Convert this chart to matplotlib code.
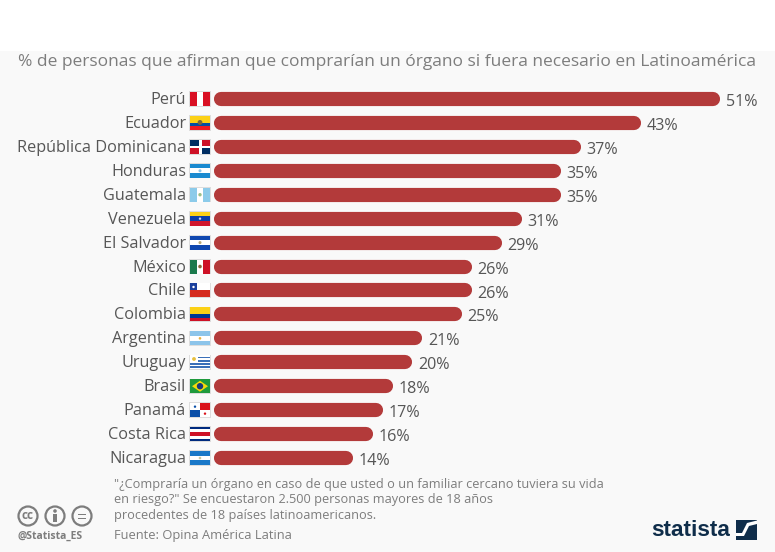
import matplotlib
matplotlib.use('Agg')
import matplotlib.pyplot as plt
from matplotlib.patches import Rectangle, Circle, Polygon

plt.rcParams['font.family'] = ['Open Sans', 'DejaVu Sans']

countries = ['Perú', 'Ecuador', 'República Dominicana', 'Honduras', 'Guatemala',
             'Venezuela', 'El Salvador', 'México', 'Chile', 'Colombia',
             'Argentina', 'Uruguay', 'Brasil', 'Panamá', 'Costa Rica', 'Nicaragua']
values = [51, 43, 37, 35, 35, 31, 29, 26, 26, 25, 21, 20, 18, 17, 16, 14]

title = '% de personas que afirman que comprarían un órgano si fuera necesario en Latinoamérica'
note = ('"¿Compraría un órgano en caso de que usted o un familiar cercano tuviera su vida\n'
        'en riesgo?" Se encuestaron 2.500 personas mayores de 18 años\n'
        'procedentes de 18 países latinoamericanos.')
source = 'Fuente: Opina América Latina'

W, H = 775, 552
BAR = '#b33a3a'
TXT = '#565656'
GREY = '#7d7d7d'

fig = plt.figure(figsize=(W / 100, H / 100), dpi=100, facecolor='#f9f9f9')

# overlay in pixel coordinates for background, flags and logos
bg = fig.add_axes([0, 0, 1, 1])
bg.set_xlim(0, W)
bg.set_ylim(H, 0)
bg.axis('off')
bg.add_patch(Rectangle((0, 0), W, 51, color='white', lw=0))

# bar axes: 0 sits at x=214, 51 at x=720
ax = fig.add_axes([214 / W, 1 - 470 / H, (720 - 214) / W, (470 - 87) / H])
ax.patch.set_alpha(0)
ax.set_xlim(0, 51)
ax.set_ylim(15.5, -0.5)
ax.axis('off')

r = 0.7  # cap radius in data units
ax.hlines(range(len(values)), r, [v - r for v in values], color=BAR,
          lw=10.2, capstyle='round')
for i, (c, v) in enumerate(zip(countries, values)):
    ax.annotate(f'{v}%', (v, i), xytext=(4, -2.2), textcoords='offset points',
                va='center', ha='left', fontsize=11.6, color=TXT)


def stripes(x, y, cols, weights=None):
    weights = weights or [1] * len(cols)
    tot = sum(weights)
    top = y
    for c, w in zip(cols, weights):
        h = 14 * w / tot
        bg.add_patch(Rectangle((x, top), 20, h, color=c, lw=0))
        top += h


def vstripes(x, y, cols):
    for k, c in enumerate(cols):
        bg.add_patch(Rectangle((x + k * 20 / 3, y), 20 / 3, 14, color=c, lw=0))


def dot(x, y, c, s=1.6):
    bg.add_patch(Circle((x, y), s, color=c, lw=0))


def flag(name, x, y):
    bg.add_patch(Rectangle((x - 0.7, y - 0.7), 21.4, 15.4, color='#dddddd', lw=0))
    if name == 'Perú':
        vstripes(x, y, ['#d91023', 'white', '#d91023'])
    elif name == 'Ecuador':
        stripes(x, y, ['#fcd116', '#034ea2', '#ed1c24'], [2, 1, 1])
        dot(x + 10, y + 6.5, '#7a6a3a', 2.4)
    elif name == 'República Dominicana':
        bg.add_patch(Rectangle((x, y), 20, 14, color='white', lw=0))
        for dx, dy, c in [(0, 0, '#002d62'), (11.5, 0, '#ce1126'), (0, 8, '#ce1126'), (11.5, 8, '#002d62')]:
            bg.add_patch(Rectangle((x + dx, y + dy), 8.5, 6, color=c, lw=0))
    elif name == 'Honduras':
        stripes(x, y, ['#1a8ad0', 'white', '#1a8ad0'])
        dot(x + 10, y + 7, '#8cc4e8', 1.5)
    elif name == 'Guatemala':
        vstripes(x, y, ['#8ccbea', 'white', '#8ccbea'])
        dot(x + 10, y + 7, '#9cbf8a', 1.7)
    elif name == 'Venezuela':
        stripes(x, y, ['#fcd116', '#0b3fa8', '#cf142b'])
        dot(x + 10, y + 7, '#cfd8f0', 1.2)
    elif name == 'El Salvador':
        stripes(x, y, ['#0f47af', 'white', '#0f47af'])
        dot(x + 10, y + 7, '#b8a878', 1.5)
    elif name == 'México':
        vstripes(x, y, ['#1a7a4c', 'white', '#ce1126'])
        dot(x + 10, y + 7, '#8a6a3a', 1.8)
    elif name == 'Chile':
        stripes(x, y, ['white', '#d52b1e'])
        bg.add_patch(Rectangle((x, y), 7, 7, color='#1a3f9c', lw=0))
        dot(x + 3.5, y + 3.5, 'white', 1.2)
    elif name == 'Colombia':
        stripes(x, y, ['#fcd116', '#003893', '#ce1126'], [2, 1, 1])
    elif name == 'Argentina':
        stripes(x, y, ['#8cc4ea', 'white', '#8cc4ea'])
        dot(x + 10, y + 7, '#e8b040', 1.3)
    elif name == 'Uruguay':
        stripes(x, y, ['white', '#3a6fb8'] * 4 + ['white'])
        bg.add_patch(Rectangle((x, y), 8, 7.5, color='white', lw=0))
        dot(x + 4, y + 3.7, '#e8c040', 1.9)
    elif name == 'Brasil':
        bg.add_patch(Rectangle((x, y), 20, 14, color='#1f9a3c', lw=0))
        bg.add_patch(Polygon([(x + 2, y + 7), (x + 10, y + 1.5), (x + 18, y + 7), (x + 10, y + 12.5)],
                             color='#f5d90a', lw=0))
        dot(x + 10, y + 7, '#1a3a7a', 3.2)
    elif name == 'Panamá':
        bg.add_patch(Rectangle((x, y), 20, 14, color='white', lw=0))
        bg.add_patch(Rectangle((x + 10, y), 10, 7, color='#da121a', lw=0))
        bg.add_patch(Rectangle((x, y + 7), 10, 7, color='#0a4fa8', lw=0))
        dot(x + 5, y + 3.5, '#0a4fa8', 1.2)
        dot(x + 15, y + 10.5, '#da121a', 1.2)
    elif name == 'Costa Rica':
        stripes(x, y, ['#002b7f', 'white', '#ce1126', 'white', '#002b7f'], [1, 1, 2, 1, 1])
    elif name == 'Nicaragua':
        stripes(x, y, ['#1a78c8', 'white', '#1a78c8'])
        dot(x + 10, y + 7, '#c8c8a0', 1.3)


fig.canvas.draw()
for i, c in enumerate(countries):
    # row centre in pixels taken from the bar axes
    yc = H - ax.transData.transform((0, i))[1]
    flag(c, 190, yc - 7)
    bg.text(186, yc + 1, c, ha='right', va='center', fontsize=11.7, color=TXT)

bg.text(18, 62, title, ha='left', va='center', fontsize=12.55, color=GREY)
bg.text(114, 500, note, ha='left', va='center', fontsize=9.23, color=GREY, linespacing=1.25)
bg.text(114, 536, source, ha='left', va='center', fontsize=9.3, color=GREY)

# cc / by / = badges
for cx in (28, 55, 82):
    bg.add_patch(Circle((cx, 516), 9.5, fill=False, ec=GREY, lw=1.6))
bg.text(28, 515.5, 'cc', ha='center', va='center', fontsize=8.5, fontweight='bold', color=GREY)
bg.add_patch(Circle((55, 511), 1.8, color=GREY, lw=0))
bg.add_patch(Rectangle((52.8, 513.5), 4.4, 8, color=GREY, lw=0))
for yy in (513.5, 517.5):
    bg.add_patch(Rectangle((78, yy), 8, 1.7, color=GREY, lw=0))
bg.text(18, 536.5, '@Statista_ES', ha='left', va='center', fontsize=7.5, fontweight='bold', color=GREY)

# statista logo
NAVY = '#0f2d4a'
bg.text(651, 530, 'statista', ha='left', va='center', fontsize=16.2, fontweight='bold',
        color=NAVY, family=['Liberation Sans Narrow', 'Liberation Sans'])
bg.add_patch(Rectangle((736, 520), 21, 20, color=NAVY, lw=0))
bg.add_patch(Polygon([(736, 536), (744, 536), (749, 526), (757, 524), (757, 520.5), (747, 523), (742, 533), (736, 533)],
                     color='white', lw=0))

fig.savefig('out.png', dpi=100, facecolor=fig.get_facecolor())
